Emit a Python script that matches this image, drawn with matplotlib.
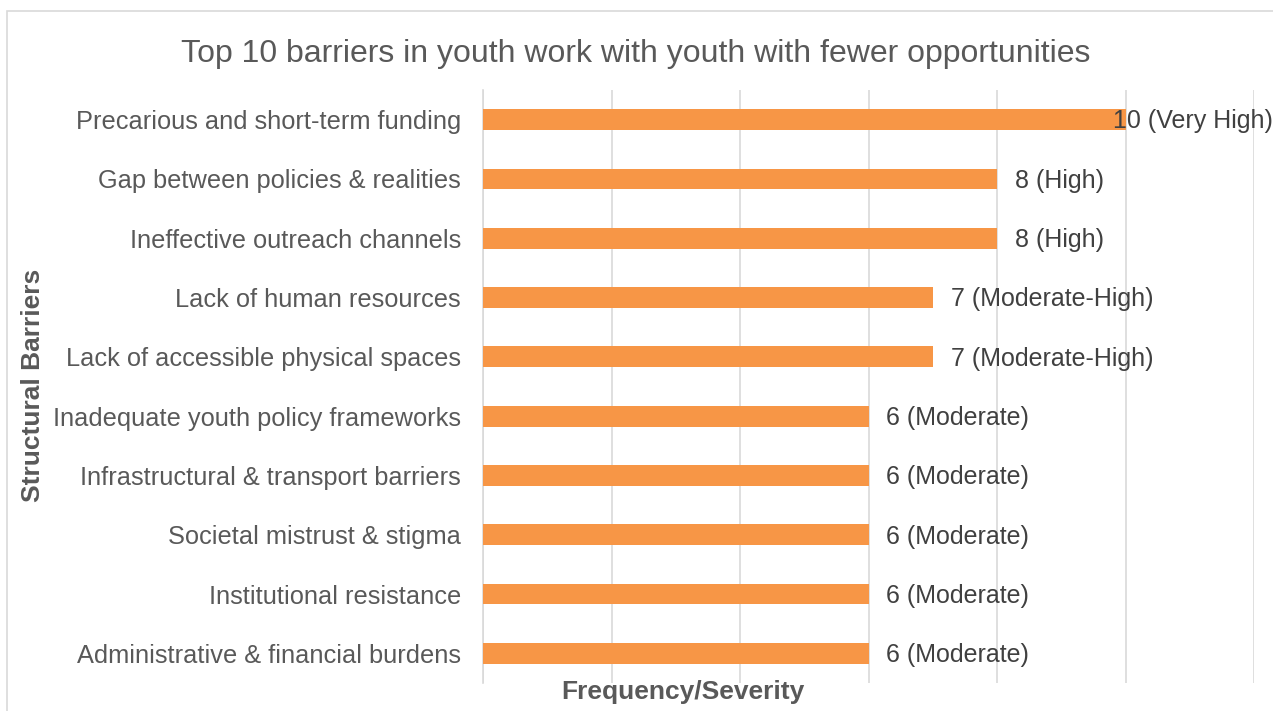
import matplotlib.pyplot as plt
from matplotlib.patches import Rectangle

plt.rcParams['font.family'] = ['Liberation Sans', 'DejaVu Sans']

barriers = [
    "Precarious and short-term funding",
    "Gap between policies & realities",
    "Ineffective outreach channels",
    "Lack of human resources",
    "Lack of accessible physical spaces",
    "Inadequate youth policy frameworks",
    "Infrastructural & transport barriers",
    "Societal mistrust & stigma",
    "Institutional resistance",
    "Administrative & financial burdens",
]
scores = [10, 8, 8, 7, 7, 6, 6, 6, 6, 6]
levels = ["Very High", "High", "High", "Moderate-High", "Moderate-High",
          "Moderate", "Moderate", "Moderate", "Moderate", "Moderate"]

W, H = 1273, 711
fig = plt.figure(figsize=(W / 100, H / 100), dpi=100)
ax = fig.add_axes([483 / W, 1 - 683 / H, (1254 - 483) / W, (683 - 90) / H])

# outer chart frame, running off the right and bottom edges
fig.patches.append(Rectangle((7 / W, -0.05), 1.2, 1 - 11 / H + 0.05,
                             transform=fig.transFigure, fill=False,
                             edgecolor='#D9D9D9', linewidth=1.2))

ypos = list(range(len(barriers)))
ax.barh(ypos, scores, height=0.35, color='#F79646', zorder=3)

ax.set_xlim(0, 12)
ax.set_ylim(len(barriers) - 0.5, -0.5)
ax.set_xticks(range(0, 13, 2))
ax.set_xticklabels([])
ax.tick_params(axis='x', length=0)
ax.tick_params(axis='y', length=0, pad=16, labelsize=18.3, labelcolor='#595959')
ax.set_yticks(ypos)
ax.set_yticklabels(barriers)
ax.grid(axis='x', color='#D9D9D9', linewidth=1.2, zorder=0)
for side in ['top', 'right', 'bottom']:
    ax.spines[side].set_visible(False)
ax.spines['left'].set_color('#D9D9D9')
ax.spines['left'].set_linewidth(1.2)

fig.canvas.draw()
renderer = fig.canvas.get_renderer()
for y, v, lvl in zip(ypos, scores, levels):
    t = ax.text(v + 0.28, y + 0.03, f"{v} ({lvl})", va='center', ha='left',
                fontsize=18, color='#404040', zorder=4)
    # pull the label back inside the figure if it would spill over
    bb = t.get_window_extent(renderer)
    if bb.x1 > W:
        x_disp = ax.transData.transform((v + 0.28, y))[0] - (bb.x1 - W)
        t.set_x(ax.transData.inverted().transform((x_disp, 0))[0])

fig.text(636 / W, 1 - 54 / H, "Top 10 barriers in youth work with youth with fewer opportunities",
         ha='center', va='center', fontsize=23, color='#595959')
fig.text(33 / W, 1 - 385 / H, "Structural Barriers", rotation=90, ha='center',
         va='center', fontsize=19, fontweight='bold', color='#595959')
fig.text(683 / W, 1 - 692 / H, "Frequency/Severity", ha='center', va='center',
         fontsize=19, fontweight='bold', color='#595959')

fig.savefig('out.png', dpi=100)
